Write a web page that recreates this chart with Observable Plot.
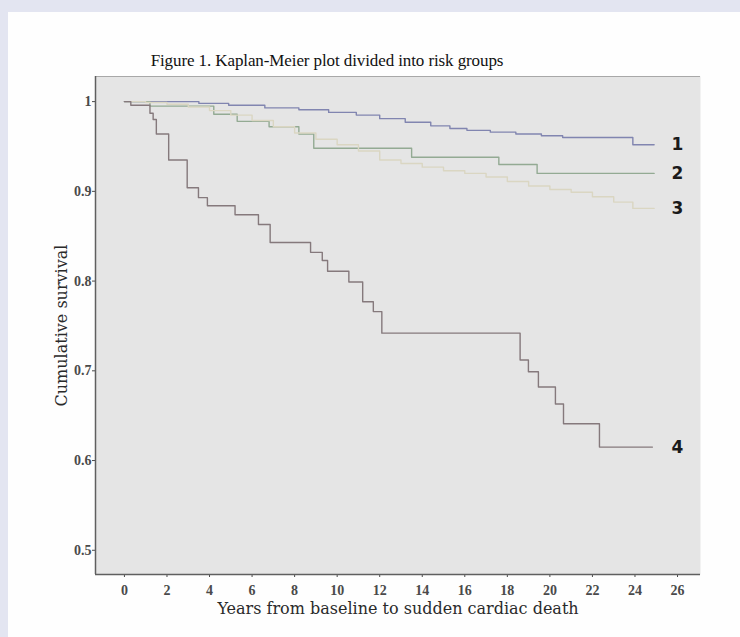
<!DOCTYPE html>
<html>
<head>
<meta charset="utf-8">
<script src="https://cdn.jsdelivr.net/npm/d3@7"></script>
<script src="https://cdn.jsdelivr.net/npm/@observablehq/plot@0.6"></script>
<style>
  body { margin: 0; background: #e3e5f1; width: 740px; height: 637px; overflow: hidden; position: relative; }
  #panel { position: absolute; left: 8px; top: 12px; right: 0; bottom: 0; background: #fefefe; }
  #title { position: absolute; left: 0; top: 51px; width: 654px; text-align: center;
           font-family: "Liberation Serif", serif; font-size: 17px; color: #111; letter-spacing: -0.1px; }
  #chart { position: absolute; left: 0; top: 0; }
</style>
</head>
<body>
<div id="panel"></div>
<div id="title">Figure 1. Kaplan-Meier plot divided into risk groups</div>
<div id="chart"></div>
<script>
// ---- data ----
const xTicks = [0, 2, 4, 6, 8, 10, 12, 14, 16, 18, 20, 22, 24, 26];
const yTicks = [0.5, 0.6, 0.7, 0.8, 0.9, 1];
const groups = ["1", "2", "3", "4"];
const groupColors = ["#8185b0", "#93aa93", "#dad6c2", "#85797c"];

// group 1 (lowest risk)
const g1Time = [0, 3.5, 4.9, 6.6, 8.2, 9.6, 10.9, 12.0, 13.2, 14.4, 15.3, 16.1, 17.2, 18.4, 19.6, 20.6, 23.9, 24.9];
const g1Surv = [1.0, 0.998, 0.996, 0.993, 0.991, 0.988, 0.985, 0.981, 0.977, 0.973, 0.970, 0.968, 0.966, 0.964, 0.962, 0.960, 0.952, 0.952];
// group 2
const g2Time = [0, 1.2, 4.2, 5.3, 6.8, 8.2, 8.9, 13.5, 17.6, 19.4, 24.9];
const g2Surv = [1.0, 0.995, 0.986, 0.978, 0.972, 0.964, 0.948, 0.938, 0.930, 0.920, 0.920];
// group 3
const g3Time = [0, 1, 2, 3, 4, 5, 6, 7, 8, 9, 10, 11, 12, 13, 14, 15, 16, 17, 18, 19, 20, 21, 22, 23, 23.9, 24.9];
const g3Surv = [1.0, 0.999, 0.997, 0.994, 0.990, 0.985, 0.979, 0.972, 0.965, 0.958, 0.952, 0.945, 0.935, 0.931, 0.927, 0.923, 0.920, 0.916, 0.911, 0.906, 0.902, 0.899, 0.894, 0.888, 0.881, 0.881];
// group 4 (highest risk)
const g4Time = [0, 0.3, 1.2, 1.35, 1.5, 2.08, 2.95, 3.48, 3.9, 5.2, 6.3, 6.85, 8.75, 9.3, 9.55, 10.55, 11.2, 11.7, 12.1, 18.6, 18.99, 19.46, 20.26, 20.64, 22.33, 24.82];
const g4Surv = [1.0, 0.996, 0.987, 0.980, 0.964, 0.935, 0.904, 0.893, 0.884, 0.874, 0.863, 0.843, 0.832, 0.823, 0.811, 0.799, 0.777, 0.766, 0.742, 0.712, 0.699, 0.682, 0.663, 0.641, 0.615, 0.615];

const labelX = [26, 26, 26, 26];

const series = [[g1Time, g1Surv], [g2Time, g2Surv], [g3Time, g3Surv], [g4Time, g4Surv]];
const rows = series.flatMap(([t, s], i) => t.map((ti, j) => ({group: groups[i], t: ti, s: s[j]})));
const labels = series.map(([t, s], i) => ({group: groups[i], x: labelX[i], s: s[s.length - 1]}));

const xDomain = [-1.36, 27.08];
const yDomain = [0.473, 1.028];

const chart = Plot.plot({
  width: 740,
  height: 637,
  marginLeft: 95,
  marginRight: 40,
  marginTop: 76,
  marginBottom: 63,
  style: {background: "transparent", fontFamily: "Liberation Serif, serif", color: "#4a4a4a"},
  x: {domain: xDomain},
  y: {domain: yDomain},
  color: {domain: groups, range: groupColors},
  marks: [
    Plot.frame({fill: "#e5e5e5", stroke: null}),
    Plot.ruleY([yDomain[1]], {stroke: "#a8a8a8", strokeWidth: 1}),
    Plot.axisX({ticks: xTicks, tickSize: 3, tickPadding: 8, fontSize: 14, fontWeight: "bold",
      label: "Years from baseline to sudden cardiac death", labelAnchor: "center", labelArrow: "none",
      labelOffset: 39, tickFormat: d => String(d)}),
    Plot.axisY({ticks: yTicks, tickSize: 3, tickPadding: 1, fontSize: 14, fontWeight: "bold",
      label: "Cumulative survival", labelAnchor: "center", labelArrow: "none", labelOffset: 40,
      tickFormat: d => d === 1 ? "1" : d.toFixed(1)}),
    Plot.ruleX([xDomain[0]], {stroke: "#5f5f5f", strokeWidth: 1.5}),
    Plot.ruleY([yDomain[0]], {stroke: "#5f5f5f", strokeWidth: 1.5}),
    Plot.line(rows, {x: "t", y: "s", z: "group", stroke: "group", curve: "step-after", strokeWidth: 1.4}),
    Plot.text(labels, {x: "x", y: "s", text: "group", fontSize: 17, fontWeight: "bold",
      fontFamily: "DejaVu Sans, sans-serif", fill: "#1a1a1a"})
  ]
});
// axis title fonts
chart.querySelectorAll("g[aria-label='x-axis label'] text, g[aria-label='y-axis label'] text").forEach(t => {
  t.setAttribute("font-size", "16");
  t.setAttribute("font-family", "DejaVu Serif, serif");
  t.setAttribute("fill", "#2a2a2a");
  t.setAttribute("font-weight", "normal");
});
document.getElementById("chart").appendChild(chart);
</script>
</body>
</html>
